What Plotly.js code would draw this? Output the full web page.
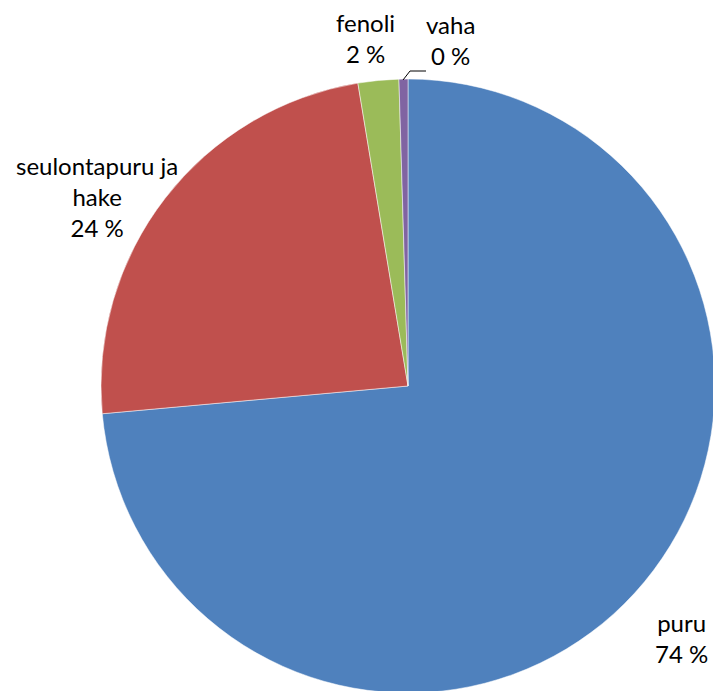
<!DOCTYPE html>
<html>
<head>
<meta charset="utf-8">
<script src="https://cdn.plot.ly/plotly-3.0.1.min.js"></script>
<style>
html, body { margin: 0; padding: 0; overflow: hidden; background: #ffffff; }
#chart { width: 720px; height: 700px; }
</style>
</head>
<body>
<div id="chart"></div>
<script>
// Data
const categories = ["puru", "seulontapuru ja<br>hake", "fenoli", "vaha"];
const values = [73.56, 23.83, 2.14, 0.47];
const colors = ["#4F81BD", "#C0504D", "#9BBB59", "#8064A2"];

const W = 720, H = 700;
const total = values.reduce((a, b) => a + b, 0);
const pctLabels = values.map(v => Math.round(v / total * 100) + " %");

// label centres in pixels
const labelPos = [[681, 638], [97, 197], [365, 38], [450, 40]];
const font = { family: "Lato, 'Open Sans', sans-serif", size: 24, color: "#000000" };

const annotations = categories.map((c, i) => ({
  text: c + "<br>" + pctLabels[i],
  xref: "paper", yref: "paper",
  x: labelPos[i][0] / W, y: 1 - labelPos[i][1] / H,
  xanchor: "center", yanchor: "middle",
  showarrow: false, align: "center",
  font: font
}));

const px = (x) => x / W, py = (y) => 1 - y / H;

const data = [{
  type: "pie",
  labels: categories,
  values: values,
  marker: { colors: colors, line: { color: "#ffffff", width: 0.5 } },
  sort: false,
  direction: "clockwise",
  rotation: 0,
  textinfo: "none",
  hoverinfo: "none",
  showlegend: false,
  domain: { x: [101 / W, 715 / W], y: [1 - 693 / H, 1 - 79 / H] }
}];

const layout = {
  width: W, height: H,
  margin: { l: 0, r: 0, t: 0, b: 0 },
  paper_bgcolor: "#ffffff",
  showlegend: false,
  annotations: annotations,
  shapes: [{
    type: "path", xref: "paper", yref: "paper",
    path: `M ${px(403)} ${py(80)} L ${px(410)} ${py(71)} L ${px(426)} ${py(71)}`,
    line: { color: "#000000", width: 1 }
  }]
};

Plotly.newPlot("chart", data, layout, { staticPlot: true, displayModeBar: false });
</script>
</body>
</html>
